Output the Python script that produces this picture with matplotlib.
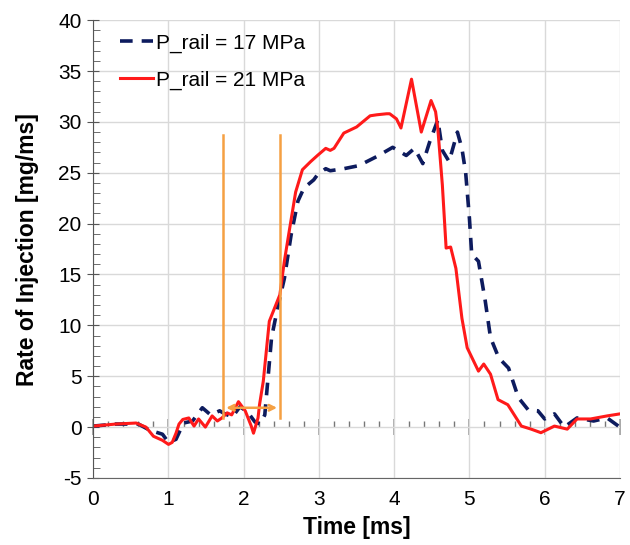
import matplotlib
matplotlib.use('Agg')
import matplotlib.pyplot as plt
from matplotlib.ticker import MultipleLocator

plt.rcParams['font.family'] = ['Liberation Sans', 'DejaVu Sans']
plt.rcParams['axes.unicode_minus'] = False

# P_rail = 21 MPa (red, solid)
t_21 = [0, 0.3, 0.57, 0.7, 0.8, 0.92, 1.0, 1.05, 1.1, 1.14, 1.19, 1.27, 1.34, 1.40, 1.49,
        1.58, 1.65, 1.71, 1.78, 1.84, 1.93, 2.02, 2.10, 2.13, 2.19, 2.21, 2.26, 2.34, 2.41,
        2.48, 2.54, 2.61, 2.69, 2.78, 2.89, 2.98, 3.09, 3.15, 3.2, 3.33, 3.50, 3.68, 3.77,
        3.90, 3.94, 4.03, 4.09, 4.23, 4.36, 4.49, 4.55, 4.58, 4.64, 4.69, 4.75, 4.82, 4.90,
        4.97, 5.12, 5.19, 5.28, 5.38, 5.51, 5.69, 5.82, 5.95, 6.13, 6.30, 6.43, 6.61, 6.83, 7.0]
roi_21 = [0.1, 0.3, 0.4, 0.0, -0.9, -1.3, -1.7, -1.5, -0.6, 0.3, 0.75, 0.9, 0.1, 0.8, 0.0,
          1.1, 0.6, 0.9, 1.4, 1.2, 2.5, 1.6, 0.1, -0.6, 0.9, 2.2, 4.5, 10.4, 11.7,
          13.0, 16.3, 19.5, 23.1, 25.3, 26.1, 26.7, 27.4, 27.2, 27.4, 28.9, 29.5, 30.6, 30.7,
          30.8, 30.8, 30.3, 29.4, 34.2, 29.0, 32.1, 31.0, 29.3, 23.8, 17.6, 17.7, 15.6, 10.7,
          7.8, 5.5, 6.2, 5.2, 2.7, 2.2, 0.1, -0.2, -0.55, 0.1, -0.2, 0.8, 0.8, 1.1, 1.3]

# P_rail = 17 MPa (navy, dashed)
t_17 = [0, 0.3, 0.6, 0.75, 0.92, 1.0, 1.1, 1.2, 1.32, 1.45, 1.56, 1.68, 1.75, 1.85, 1.95,
        2.05, 2.15, 2.22, 2.28, 2.37, 2.45, 2.54, 2.63, 2.72, 2.80, 2.93, 2.98, 3.09, 3.15,
        3.33, 3.53, 3.77, 3.98, 4.16, 4.27, 4.38, 4.47, 4.58, 4.64, 4.73, 4.84, 4.90, 4.95,
        5.0, 5.03, 5.12, 5.21, 5.28, 5.39, 5.52, 5.65, 5.78, 5.91, 6.0, 6.13, 6.26, 6.43,
        6.65, 6.83, 6.98]
roi_17 = [0.1, 0.3, 0.3, -0.3, -0.7, -1.5, -1.2, 0.4, 0.6, 1.9, 1.2, 1.6, 1.3, 1.0, 2.0,
          1.5, 0.5, 0.3, 1.2, 8.8, 11.7, 14.6, 18.9, 22.2, 23.5, 24.3, 24.8, 25.4, 25.2,
          25.4, 25.7, 26.6, 27.5, 26.7, 27.4, 25.9, 28.0, 30.2, 27.2, 26.1, 29.0, 27.4, 25.0,
          20.5, 17.0, 16.3, 12.4, 8.8, 6.8, 5.8, 2.9, 1.7, 1.6, 0.8, 1.3, 0.0, 0.9,
          0.6, 0.9, 0.1]

# orange markers of the interval
marker_t = [1.73, 2.48]
marker_top = 28.7
marker_bottom = 0.9
arrow_y = 1.9

fig = plt.figure(figsize=(6.3, 5.45), dpi=100)
ax = fig.add_axes([0.148, 0.123, 0.836, 0.840])

ax.set_xlim(0, 7)
ax.set_ylim(-5, 40)
ax.xaxis.set_major_locator(MultipleLocator(1))
ax.yaxis.set_major_locator(MultipleLocator(5))
ax.yaxis.set_minor_locator(MultipleLocator(1))
ax.grid(True, which='major', color='#d9d9d9', linewidth=1)
ax.set_axisbelow(True)

for s in ['top', 'right']:
    ax.spines[s].set_visible(False)
ax.spines['left'].set_color('#555555')
ax.spines['bottom'].set_color('#666666')
ax.tick_params(axis='x', length=0, labelsize=15, pad=9)
ax.tick_params(axis='y', which='major', direction='inout', length=9, color='#555555',
               labelsize=15, pad=4)
ax.tick_params(axis='y', which='minor', direction='in', length=5, color='#555555')

# tick line at y = 0
sec = ax.secondary_xaxis(5 / 45)
sec.spines['bottom'].set_visible(False)
sec.xaxis.set_major_locator(MultipleLocator(1))
sec.xaxis.set_minor_locator(MultipleLocator(0.2))
sec.tick_params(which='major', direction='inout', length=12, color='#999999', width=1.2,
                labelbottom=False)
sec.tick_params(which='minor', direction='in', length=4, color='#777777', width=1)

ax.plot(t_17, roi_17, color='#0d1b5e', linewidth=2.6, linestyle=(0, (3.5, 2.5)),
        label='P_rail = 17 MPa')
ax.plot(t_21, roi_21, color='#ff1a1a', linewidth=2.2, label='P_rail = 21 MPa')

orange = '#f5a043'
for xm in marker_t:
    ax.plot([xm, xm], [marker_bottom, marker_top], color=orange, linewidth=1.8)
ax.annotate('', xy=(marker_t[1], arrow_y), xytext=(marker_t[0], arrow_y),
            arrowprops=dict(arrowstyle='<->', color=orange, lw=1.8))

ax.set_xlabel('Time [ms]', fontsize=16.5, fontweight='bold', labelpad=5)
ax.set_ylabel('Rate of Injection [mg/ms]', fontsize=16.5, fontweight='bold', labelpad=14)

ax.legend(loc='center left', frameon=False, fontsize=15, handlelength=1.6,
          handletextpad=0.15, labelspacing=0.85, borderaxespad=0,
          bbox_to_anchor=(0.035, 0.909))

fig.savefig('out.png', dpi=100)
